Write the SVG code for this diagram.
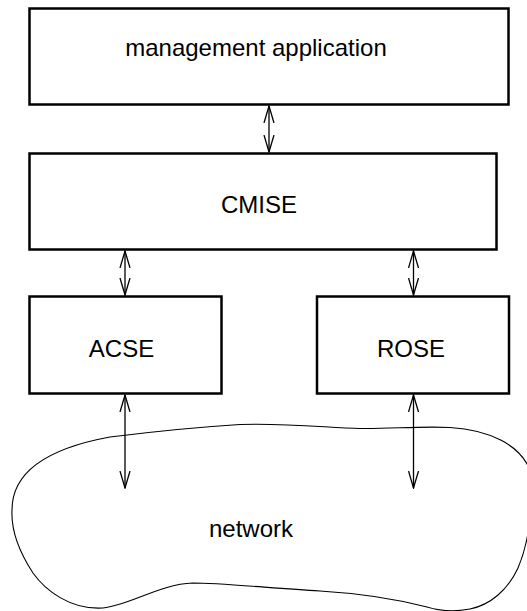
<svg xmlns="http://www.w3.org/2000/svg" width="527" height="611" viewBox="0 0 527 611">
<style>
.box{fill:#fff;stroke:#000;stroke-width:2.5}
.lbl{font-family:"Liberation Sans",Arial,sans-serif;font-size:24px;fill:#000;text-anchor:middle}
.conn{stroke:#000;stroke-width:1.3;fill:none;marker-start:url(#ah);marker-end:url(#ah)}
.cloud{fill:#fff;stroke:#000;stroke-width:1.1}
</style>
<defs>
<marker id="ah" markerUnits="userSpaceOnUse" viewBox="0 0 18 12" markerWidth="18" markerHeight="12" refX="17" refY="6" orient="auto-start-reverse">
<path d="M0,1 L17,6 L0,11" fill="none" stroke="#000" stroke-width="1.3"/>
</marker>
</defs>
<rect width="527" height="611" fill="#fff"/>
<g id="network">
<path class="cloud" d="M 12,510 C 12,470 50,448 110,437 C 150,432 200,427 240,424.5 C 290,423 330,428 360,428.5 C 390,429 420,426 450,427.5 C 490,430 520,445 530,470 C 534,500 530,540 518,568 C 508,590 490,605 470,609 C 455,612 440,611 427,607 C 400,600 370,594 320,591 C 270,588 220,583 193,583 C 160,584 130,605 103,608 C 70,610 45,590 33,573 C 18,550 11,530 12,510 Z"/>
<text class="lbl" x="251" y="537">network</text>
</g>
<g id="mgmt">
<rect class="box" x="29.5" y="8.5" width="479" height="96"/>
<text class="lbl" x="256" y="56">management application</text>
</g>
<g id="cmise">
<rect class="box" x="29.5" y="153.5" width="467" height="96"/>
<text class="lbl" x="259" y="213">CMISE</text>
</g>
<g id="acse">
<rect class="box" x="29.5" y="296.5" width="192" height="97"/>
<text class="lbl" x="121.5" y="357">ACSE</text>
</g>
<g id="rose">
<rect class="box" x="317" y="296.5" width="192" height="97"/>
<text class="lbl" x="411" y="357">ROSE</text>
</g>
<g id="connectors">
<line class="conn" x1="269" y1="106" x2="269" y2="152"/>
<line class="conn" x1="125" y1="251" x2="125" y2="295"/>
<line class="conn" x1="413.5" y1="251" x2="413.5" y2="295"/>
<line class="conn" x1="125" y1="395" x2="125" y2="488"/>
<line class="conn" x1="413.5" y1="395" x2="413.5" y2="488"/>
</g>
</svg>
